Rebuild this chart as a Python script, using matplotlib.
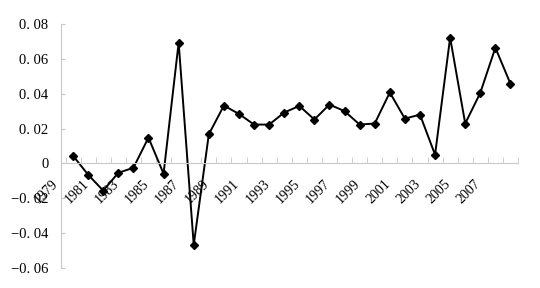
import numpy as np
import matplotlib.pyplot as plt

# data
years = list(range(1979, 2009))
values = [0.0044, -0.0065, -0.0156, -0.0054, -0.0025, 0.0148, -0.0059, 0.0693,
          -0.0467, 0.0167, 0.0332, 0.0284, 0.0223, 0.0223, 0.0292, 0.0330,
          0.0252, 0.0338, 0.0300, 0.0223, 0.0229, 0.0407, 0.0257, 0.0280,
          0.0050, 0.0722, 0.0229, 0.0405, 0.0664, 0.0457]
yticks = [0.08, 0.06, 0.04, 0.02, 0, -0.02, -0.04, -0.06]
ytick_labels = ["0. 08", "0. 06", "0. 04", "0. 02", "0", "\u22120. 02", "\u22120. 04", "\u22120. 06"]

plt.rcParams['font.family'] = ['Liberation Serif', 'DejaVu Serif']
axcol = '#c8c8c8'

fig = plt.figure(figsize=(5.4, 2.88), dpi=100)
ax = fig.add_axes([61/540, 1-268/288, (518-61)/540, (268-24)/288])

x = np.arange(len(years))
ax.plot(x, values, color='black', lw=1.4, marker='D', ms=4.5, mfc='black', mec='black')

ax.set_xlim(-0.5, len(years)-0.5)
ax.set_ylim(-0.06, 0.08)

for s in ['top', 'right']:
    ax.spines[s].set_visible(False)
ax.spines['left'].set_color(axcol)
ax.spines['bottom'].set_color(axcol)
ax.spines['bottom'].set_position(('data', 0))

ax.set_yticks(yticks)
ax.set_yticklabels(ytick_labels, fontsize=10.5)
ax.tick_params(axis='y', direction='in', length=3, color=axcol, pad=9)

# tick marks at category borders, labels every second year (shifted left like excel)
ax.set_xticks(np.arange(-0.5, len(years), 1), minor=True)
ax.tick_params(axis='x', which='minor', direction='in', length=4, color=axcol)
ax.set_xticks(x[::2] - 0.8)
ax.set_xticklabels([str(y) for y in years[::2]], fontsize=10, rotation=45,
                   ha='right', va='top')
ax.tick_params(axis='x', which='major', length=0, pad=10)

fig.savefig('out.png', dpi=100)
